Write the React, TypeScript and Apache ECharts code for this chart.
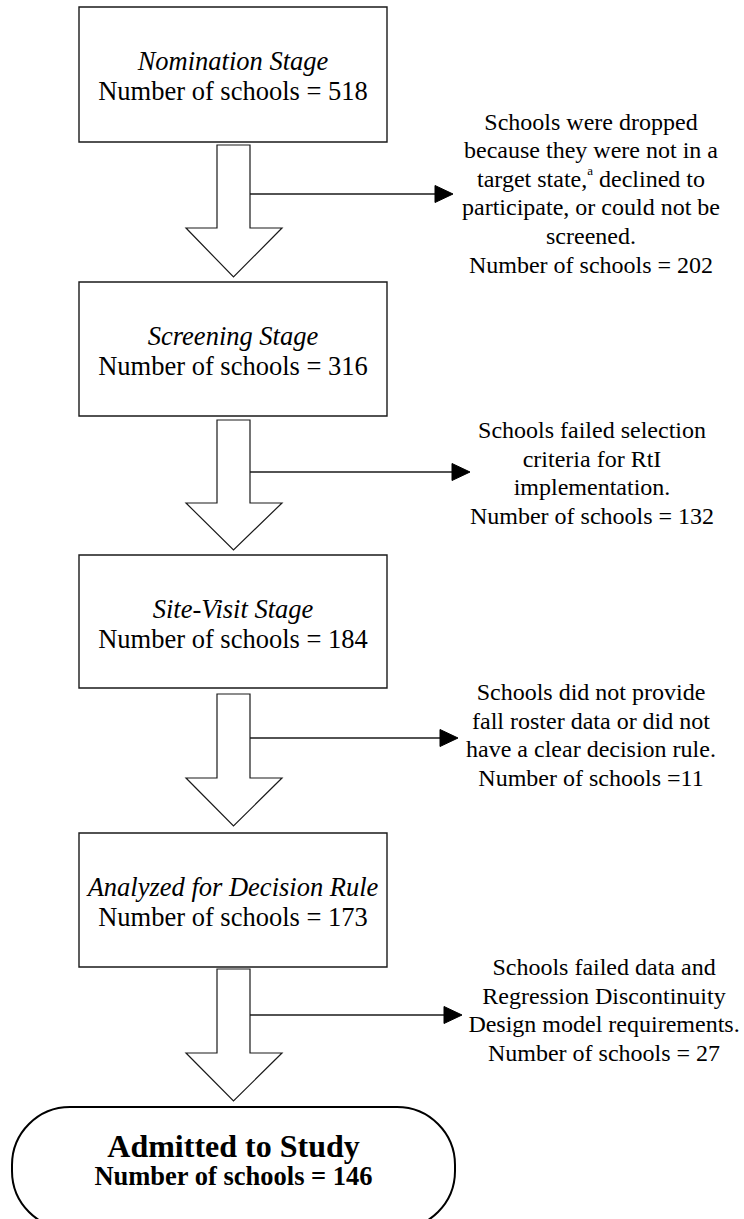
import React, { useEffect, useRef } from "react";
import * as echarts from "echarts";

// ---- data ----
const stageNames = ["Nomination Stage", "Screening Stage", "Site-Visit Stage", "Analyzed for Decision Rule"];
const stageCounts = [518, 316, 184, 173];
const dropReasons = [
  ["Schools were dropped", "because they were not in a", "target state,{sup|a} declined to", "participate, or could not be", "screened."],
  ["Schools failed selection", "criteria for RtI", "implementation."],
  ["Schools did not provide", "fall roster data or did not", "have a clear decision rule."],
  ["Schools failed data and", "Regression Discontinuity", "Design model requirements."],
];
const dropCounts = [202, 132, 11, 27];
const dropEquals = [" = ", " = ", " =", " = "];
const admittedLabel = "Admitted to Study";
const admittedCount = 146;
const countPrefix = "Number of schools";

// ---- layout ----
const FONT = "Liberation Serif";
const boxX0 = 79, boxX1 = 387;
const boxTops = [7, 282, 555, 833];
const boxBottoms = [142, 416, 688, 967];
const arrowTops = [145, 420, 694, 969];
const headBases = [228, 503, 778, 1053];
const tips = [277, 550, 826, 1101];
const shaftL = 217, shaftR = 250, headL = 186, headR = 282, arrowCX = 233.5;
const branchY = [194, 472, 738, 1015];
const branchTip = [453, 470, 458, 462];
const textCX = [591, 592, 591, 604];
const textCY = [193, 473, 735, 1010];

export default function App() {
  const ref = useRef<HTMLDivElement>(null);
  useEffect(() => {
    document.body.style.margin = "0";
    const chart = echarts.init(ref.current!, null, { renderer: "svg" });
    const els: any[] = [];
    const stroke = "#1a1a1a";
    const txt = (x: number, y: number, text: string, size: number, extra: any = {}) => ({
      type: "text", x, y,
      style: {
        text, fontFamily: FONT, fontSize: size, fill: "#000", align: "center", verticalAlign: "middle", ...extra,
      },
    });
    stageNames.forEach((name, i) => {
      const top = boxTops[i], bot = boxBottoms[i];
      const cx = (boxX0 + boxX1) / 2;
      els.push({
        type: "rect",
        shape: { x: boxX0, y: top, width: boxX1 - boxX0, height: bot - top },
        style: { fill: "#fff", stroke, lineWidth: 1.4 },
      });
      els.push(txt(cx, top + 54, name, 26.5, { fontStyle: "italic" }));
      els.push(txt(cx, top + 84, `${countPrefix} = ${stageCounts[i]}`, 26.5));
      // block arrow
      els.push({
        type: "polygon",
        shape: {
          points: [
            [shaftL, arrowTops[i]], [shaftR, arrowTops[i]], [shaftR, headBases[i]], [headR, headBases[i]],
            [arrowCX, tips[i]], [headL, headBases[i]], [shaftL, headBases[i]],
          ],
        },
        style: { fill: "#fff", stroke, lineWidth: 1.2 },
      });
      // branch line with arrowhead
      els.push({
        type: "line",
        shape: { x1: shaftR, y1: branchY[i], x2: branchTip[i] - 17, y2: branchY[i] },
        style: { stroke, lineWidth: 1.3 },
      });
      els.push({
        type: "polygon",
        shape: { points: [[branchTip[i] - 18, branchY[i] - 8.5], [branchTip[i], branchY[i]], [branchTip[i] - 18, branchY[i] + 8.5]] },
        style: { fill: "#000", stroke: "#000", lineWidth: 1 },
      });
      const lines = [...dropReasons[i], `${countPrefix}${dropEquals[i]}${dropCounts[i]}`];
      els.push(txt(textCX[i], textCY[i], lines.join("\n"), 24, {
        lineHeight: 28.6,
        rich: { sup: { fontSize: 13, fontFamily: FONT, verticalAlign: "top", lineHeight: 28.6, fill: "#000" } },
      }));
    });
    // terminal
    els.push({
      type: "rect",
      shape: { x: 12, y: 1107, width: 443, height: 122, r: 58 },
      style: { fill: "#fff", stroke: "#000", lineWidth: 2 },
    });
    els.push(txt(233.5, 1146, admittedLabel, 32, { fontWeight: "bold" }));
    els.push(txt(233.5, 1176, `${countPrefix} = ${admittedCount}`, 26.5, { fontWeight: "bold" }));
    chart.setOption({ animation: false, backgroundColor: "#fff", graphic: { elements: els } });
    return () => chart.dispose();
  }, []);
  return <div ref={ref} style={{ position: "absolute", left: 0, top: 0, width: 744, height: 1219 }} />;
}
